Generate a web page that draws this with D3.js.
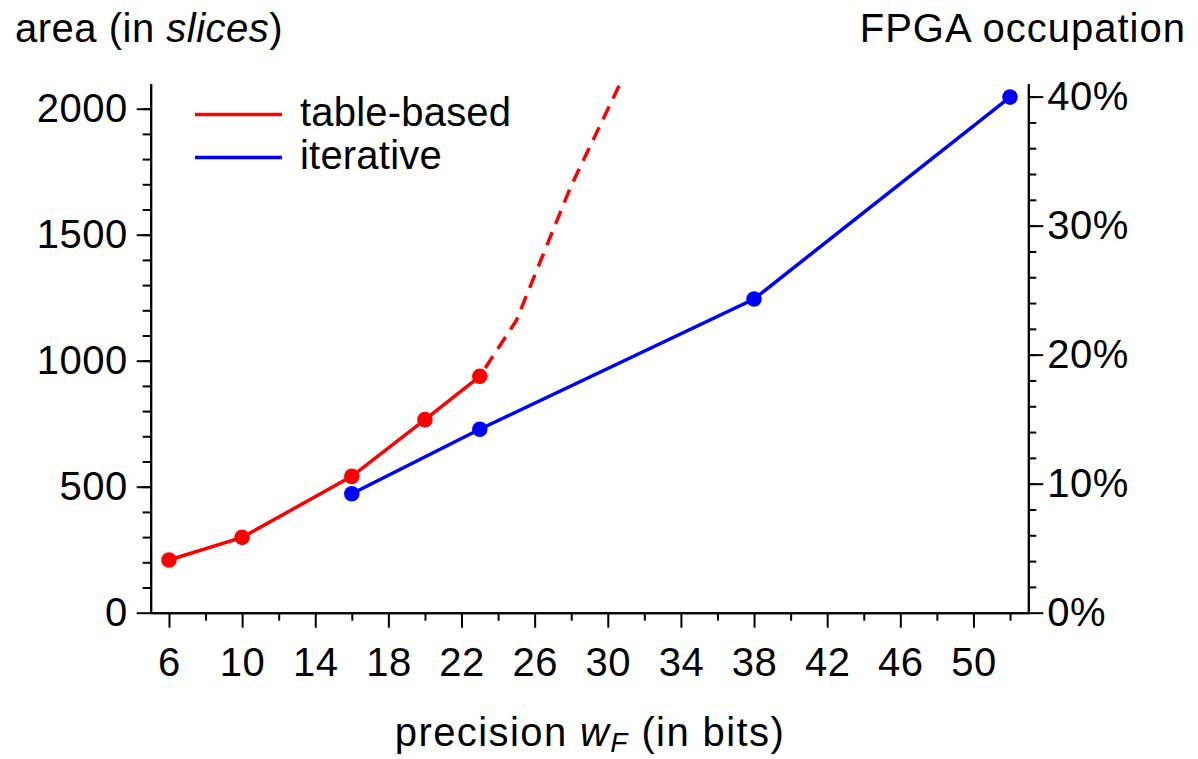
<!DOCTYPE html>
<html lang="en">
<head>
<meta charset="UTF-8">
<title>Area vs precision</title>
<script src="https://d3js.org/d3.v7.min.js"></script>
<style>
  body { margin: 0; background: #fff; }
  text { font-family: "Liberation Sans", Arial, sans-serif; fill: #000; }
</style>
</head>
<body>
<script>
// data
var wfTable = [6, 10, 16, 20, 23];
var areaTable = [209, 299, 541, 766, 938];
var wfTableExtra = [23, 25, 28, 32];
var areaTableExtra = [938, 1160, 1695, 2300];
var wfIter = [16, 23, 38, 52];
var areaIter = [472, 728, 1245, 2046];
var xMajor = [6, 10, 14, 18, 22, 26, 30, 34, 38, 42, 46, 50];
var xMinor = [8, 12, 16, 20, 24, 28, 32, 36, 40, 44, 48, 52];
var yMajor = [0, 500, 1000, 1500, 2000];
var pctMajor = [0, 10, 20, 30, 40];
var totalSlices = 5120;

var width = 1198, height = 759;
var pLeft = 150.7, pRight = 1028.3, pTop = 83.5, pBottom = 612.7;
var fs = 40;

var svg = d3.select("body").append("svg").attr("width", width).attr("height", height);

var x = d3.scaleLinear().domain([5, 53]).range([pLeft, pRight]);
var y = d3.scaleLinear().domain([0, 2100]).range([pBottom, pTop]);
var yPct = d3.scaleLinear().domain([0, 2100 / totalSlices * 100]).range([pBottom, pTop]);

svg.append("defs").append("clipPath").attr("id", "plot")
  .append("rect").attr("x", pLeft).attr("y", pTop).attr("width", pRight - pLeft).attr("height", pBottom - pTop);

function styleAxis(g) {
  g.selectAll("path.domain").attr("stroke", "#000").attr("stroke-width", 2);
  g.selectAll(".tick line").attr("stroke", "#000").attr("stroke-width", 2);
  g.selectAll(".tick text").style("font-size", fs + "px").style("letter-spacing", "0.5px")
    .style("font-family", "'Liberation Sans', Arial, sans-serif").attr("fill", "#000");
}

// x axis
var gx = svg.append("g").attr("transform", "translate(0," + pBottom + ")")
  .call(d3.axisBottom(x).tickValues(xMajor).tickSize(15).tickSizeOuter(0).tickPadding(20).tickFormat(d3.format("d")));
styleAxis(gx);
var gx2 = svg.append("g").attr("transform", "translate(0," + pBottom + ")")
  .call(d3.axisBottom(x).tickValues(xMinor).tickSize(8).tickSizeOuter(0).tickFormat(""));
styleAxis(gx2);

// left axis
var gy = svg.append("g").attr("transform", "translate(" + pLeft + ",0)")
  .call(d3.axisLeft(y).tickValues(yMajor).tickSize(14).tickSizeOuter(0).tickPadding(9).tickFormat(d3.format("d")));
styleAxis(gy);
var gy2 = svg.append("g").attr("transform", "translate(" + pLeft + ",0)")
  .call(d3.axisLeft(y).tickValues(d3.range(100, 2100, 100)).tickSize(8).tickSizeOuter(0).tickFormat(""));
styleAxis(gy2);

// right axis
var gr = svg.append("g").attr("transform", "translate(" + pRight + ",0)")
  .call(d3.axisRight(yPct).tickValues(pctMajor).tickSize(15).tickSizeOuter(0).tickPadding(4).tickFormat(function(d) { return d + "%"; }));
styleAxis(gr);
var gr2 = svg.append("g").attr("transform", "translate(" + pRight + ",0)")
  .call(d3.axisRight(yPct).tickValues(d3.range(2, 42, 2)).tickSize(8).tickSizeOuter(0).tickFormat(""));
styleAxis(gr2);

// lines
var line = d3.line().x(function(d) { return x(d[0]); }).y(function(d) { return y(d[1]); });
var plot = svg.append("g").attr("clip-path", "url(#plot)");

var tableData = d3.zip(wfTable, areaTable);
var extraData = d3.zip(wfTableExtra, areaTableExtra);
var iterData = d3.zip(wfIter, areaIter);

plot.append("path").datum(extraData).attr("d", line)
  .attr("fill", "none").attr("stroke", "#ff0000").attr("stroke-width", 3.5).attr("stroke-dasharray", "14,9").attr("stroke-dashoffset", -10);
plot.append("path").datum(tableData).attr("d", line)
  .attr("fill", "none").attr("stroke", "#ff0000").attr("stroke-width", 3.5);
plot.append("path").datum(iterData).attr("d", line)
  .attr("fill", "none").attr("stroke", "#0000ff").attr("stroke-width", 3.5);

svg.append("g").selectAll("circle").data(tableData).enter().append("circle")
  .attr("cx", function(d) { return x(d[0]); }).attr("cy", function(d) { return y(d[1]); })
  .attr("r", 7.8).attr("fill", "#ff0000");
svg.append("g").selectAll("circle").data(iterData).enter().append("circle")
  .attr("cx", function(d) { return x(d[0]); }).attr("cy", function(d) { return y(d[1]); })
  .attr("r", 7.8).attr("fill", "#0000ff");

// legend
var legend = [["table-based", "#ff0000"], ["iterative", "#0000ff"]];
var lg = svg.append("g");
legend.forEach(function(l, i) {
  var ly = 114.5 + i * 43;
  lg.append("line").attr("x1", 195).attr("x2", 282).attr("y1", ly).attr("y2", ly)
    .attr("stroke", l[1]).attr("stroke-width", 3.5);
  lg.append("text").attr("x", 300).attr("y", ly + 11).style("font-size", fs + "px")
    .style("letter-spacing", "0.2px").text(l[0]);
});

// titles
var t1 = svg.append("text").attr("x", 15).attr("y", 42).style("font-size", fs + "px").style("letter-spacing", "0.5px");
t1.append("tspan").text("area (in ");
t1.append("tspan").style("font-style", "italic").text("slices");
t1.append("tspan").text(")");

svg.append("text").attr("x", 1186).attr("y", 42).attr("text-anchor", "end")
  .style("font-size", fs + "px").style("letter-spacing", "1px").text("FPGA occupation");

var t3 = svg.append("text").attr("x", 590).attr("y", 746).attr("text-anchor", "middle")
  .style("font-size", fs + "px").style("letter-spacing", "1.4px");
t3.append("tspan").text("precision ");
t3.append("tspan").style("font-style", "italic").text("w");
t3.append("tspan").style("font-style", "italic").style("font-size", "28px").attr("dy", 6).text("F");
t3.append("tspan").attr("dy", -6).text(" (in bits)");
</script>
</body>
</html>
